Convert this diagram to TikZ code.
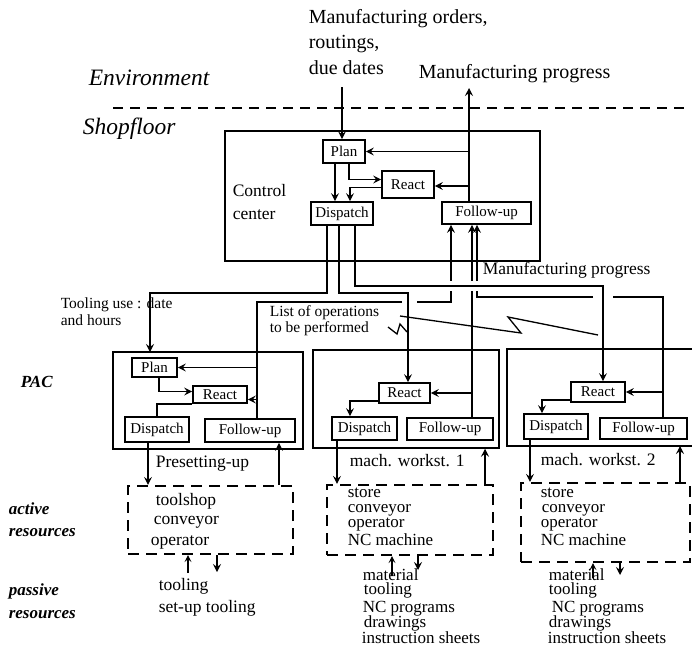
\documentclass[tikz,border=0pt]{standalone}
\usepackage{fontspec}
\setmainfont{Liberation Serif}
\usetikzlibrary{arrows.meta}
\begin{document}
\begin{tikzpicture}[x=1pt,y=-1pt,
  line width=1.6pt,
  arr/.style={-{Stealth[length=8pt,width=8pt,inset=3pt]}},
  sarr/.style={-{Stealth[length=7pt,width=7pt,inset=3pt]}, line width=1.1pt},
  ibox/.style={draw, line width=1.7pt, inner sep=0, font=\fontsize{15}{15}\selectfont},
  outerbox/.style={draw, line width=1.5pt, inner sep=0},
  resbox/.style={draw, line width=2.2pt, dash pattern=on 11pt off 7pt, inner sep=0},
  txm/.style={anchor=base west, inner sep=0, font=\fontsize{17.5}{17.5}\selectfont},
  txr/.style={anchor=base west, inner sep=0, font=\fontsize{17}{17}\selectfont},
  txb/.style={anchor=base west, inner sep=0, font=\fontsize{20}{20}\selectfont},
  txs/.style={anchor=base west, inner sep=0, font=\fontsize{15.5}{15.5}\selectfont},
  txl/.style={anchor=base west, inner sep=0, font=\fontsize{17}{17}\selectfont\bfseries\itshape},
  txe/.style={anchor=base west, inner sep=0, font=\fontsize{23.5}{23.5}\selectfont\itshape},
]
\fill[white] (0,0) rectangle (692,649);
\useasboundingbox (0,0) rectangle (692,649);

% ---------- top texts ----------
\node[txb] (mo1) at (308,23) {Manufacturing orders,};
\node[txb] (mo2) at (308,48.5) {routings,};
\node[txb] (mo3) at (308,74) {due dates};
\node[txb] (mp) at (418,78) {Manufacturing progress};
\node[txe] (envl) at (88,85) {Environment};
\node[txe] (shop) at (82,134) {Shopfloor};
\draw[dash pattern=on 10pt off 7pt, line width=2pt] (113,108) -- (688,108);

% ---------- control center ----------
\node[outerbox, minimum width=315, minimum height=130] (cc) at (382.5,196) {};
\node[ibox, minimum width=42, minimum height=23] (ccPlan) at (344,151.5) {Plan};
\node[ibox, minimum width=52, minimum height=27] (ccReact) at (408,184.5) {React};
\node[ibox, minimum width=62, minimum height=23] (ccDisp) at (342,213.5) {Dispatch};
\node[ibox, minimum width=89, minimum height=22] (ccFol) at (486.5,213) {Follow-up};
\node[txm] (ccl1) at (232,196) {Control};
\node[txm] (ccl2) at (232,219) {center};

\coordinate (inTop) at (342,87);
\coordinate (outTop) at (469,88);
\draw[arr] (inTop) -- (inTop |- ccPlan.north);
\draw[arr] (ccFol.north -| outTop) -- (outTop);
\draw[arr] (ccPlan.east -| outTop) -- (ccPlan.east);
\draw[arr] ([yshift=-1.5]ccReact.east -| outTop) -- ([yshift=-1.5]ccReact.east);
\draw[arr] ([xshift=5]ccPlan.south) |- ([yshift=5]ccReact.west);
\draw[arr] ([xshift=-9]ccPlan.south) -- ([xshift=-9]ccPlan.south |- ccDisp.north);
\draw[arr] ([yshift=-3]ccReact.west) -| ([xshift=8]ccDisp.north);

% ---------- PAC boxes ----------
\node[outerbox, minimum width=190, minimum height=97] (p1Box) at (208,400.5) {};
\node[ibox, minimum width=45, minimum height=19] (p1Plan) at (154.5,367.5) {Plan};
\node[ibox, minimum width=54, minimum height=17] (p1React) at (220,394.5) {React};
\node[ibox, minimum width=64, minimum height=25] (p1Disp) at (157,429.5) {Dispatch};
\node[ibox, minimum width=90, minimum height=23] (p1Fol) at (250,430.5) {Follow-up};

\node[outerbox, minimum width=186, minimum height=98] (w1Box) at (406,399) {};
\node[ibox, minimum width=51, minimum height=20] (w1React) at (404.5,393) {React};
\node[ibox, minimum width=65, minimum height=23] (w1Disp) at (364.5,428.5) {Dispatch};
\node[ibox, minimum width=86, minimum height=22] (w1Fol) at (450,429) {Follow-up};

\draw[line width=1.5pt] (692,349) -- (507,349) -- (507,446) -- (692,446);
\node[ibox, minimum width=54, minimum height=20] (w2React) at (598,392) {React};
\node[ibox, minimum width=64, minimum height=25] (w2Disp) at (556,426.5) {Dispatch};
\node[ibox, minimum width=87, minimum height=21] (w2Fol) at (643.5,428.5) {Follow-up};

% internal PAC connectors
\draw[arr] ([xshift=4.5]p1Plan.south) |- ([yshift=3]p1React.west);
\draw (p1React.south west) -| (p1Disp.north);
\draw[arr] ([yshift=3]w1React.south west) -| ([xshift=-14.5]w1Disp.north);
\draw[arr] ([yshift=3]w2React.south west) -| ([xshift=-14]w2Disp.north);

% ---------- feedback lines (follow-up) ----------
\coordinate (f1top) at (257,302);
\coordinate (f1r) at (451,302);
\draw ([xshift=7]p1Fol.north) -- (f1top) -- (402,302);
\draw[arr] (417,302) -- (f1r) -- (f1r |- ccFol.south);
\draw[arr] (p1Plan.east -| f1top) -- (p1Plan.east);
\draw[arr] ([yshift=-5]p1React.east -| f1top) -- ([yshift=-5]p1React.east);

\draw[arr] ([xshift=22]w1Fol.north) -- ([xshift=22]w1Fol.north |- ccFol.south);
\draw[arr] (w1React.east -| 472,0) -- (w1React.east);

\coordinate (f3top) at (663,297);
\coordinate (f3l) at (477,297);
\draw ([xshift=19.5]w2Fol.north) -- (f3top) -- (613,297);
\draw[arr] (593,297) -- (f3l) -- (f3l |- ccFol.south);
\draw[arr] (w2React.east -| f3top) -- (w2React.east);

% gaps where the dispatch line crosses
\draw[white, line width=10pt] (445,286) -- (483,286);

% ---------- dispatch lines ----------
\draw[arr] ([xshift=-15]ccDisp.south) |- (150,293) -- (150,352);
\draw[arr] ([xshift=-3]ccDisp.south) |- (408,293) -- ([xshift=3.5]w1React.north);
\draw[arr] ([xshift=13]ccDisp.south) |- (603,286) -- ([xshift=5]w2React.north);

\node[txm] (mp2) at (482,274) {Manufacturing progress};
\node[txs] (tu1) at (60,308) {Tooling use : date};
\node[txs] (tu2) at (60,325) {and hours};
\node[txs] (lo1) at (269,316) {List of operations};
\node[txs] (lo2) at (269,332) {to be performed};

% zigzag pointers
\draw[line width=1.3pt] (400,316) -- (521,333) -- (508,317) -- (598,335);
\draw[line width=1.3pt] (388,327) -- (397,334) -- (400,324) -- (407,332);

% ---------- labels ----------
\node[txl] (pac) at (20,387) {PAC};
\node[txl] (act1) at (8,514) {active};
\node[txl] (act2) at (8,536) {resources};
\node[txl] (pas1) at (8,595) {passive};
\node[txl] (pas2) at (8,618) {resources};

\node[txm] (pre) at (155,467) {Presetting-up};
\node[txm] (mw1) at (349,466) {mach. workst. 1};
\node[txm] (mw2) at (540,465) {mach. workst. 2};

% ---------- resource boxes ----------
\node[resbox, minimum width=165, minimum height=68] (r1) at (210.5,520) {};
\node[resbox, minimum width=166, minimum height=70] (r2) at (410,520) {};
\node[resbox, minimum width=169, minimum height=79] (r3) at (605.5,522.5) {};

\draw[arr] ([xshift=-9]p1Disp.south) -- ([xshift=-9]p1Disp.south |- r1.north);
\draw[arr] ([xshift=-27.5]w1Disp.south) -- ([xshift=-27.5]w1Disp.south |- r2.north);
\draw[arr] ([xshift=-26]w2Disp.south) -- ([xshift=-26]w2Disp.south |- r3.north);

\draw[arr] (r1.north -| 279,0) -- (279,0 |- p1Fol.south);
\draw[arr] (r2.north -| 485,0) -- (485,0 |- w1Box.south);
\draw[arr] (r3.north -| 680,0) -- (680,446);

\draw[sarr] (188,573) -- (188,0 |- r1.south);
\draw[arr] (217,0 |- r1.south) -- (217,572);
\draw[sarr] (392,576) -- (392,0 |- r2.south);
\draw[arr] (418,0 |- r2.south) -- (418,570);
\draw[sarr] (593,578) -- (593,0 |- r3.south);
\draw[arr] (620,0 |- r3.south) -- (620,575);

\node[txm] (r1a) at (155,505) {toolshop};
\node[txm] (r1b) at (153,524) {conveyor};
\node[txm] (r1c) at (150,545) {operator};
\node[txm] (r1d) at (158,590) {tooling};
\node[txm] (r1e) at (158,612) {set-up tooling};

\node[txr] (r2a) at (347,497) {store};
\node[txr] (r2b) at (347,512) {conveyor};
\node[txr] (r2c) at (347,527) {operator};
\node[txr] (r2d) at (347,545) {NC machine};
\node[txr] (r2e) at (362,580) {material};
\node[txr] (r2f) at (363,594) {tooling};
\node[txr] (r2g) at (362,612) {NC programs};
\node[txr] (r2h) at (363,627) {drawings};
\node[txr] (r2i) at (361,643) {instruction sheets};

\node[txr] (r3a) at (540,497) {store};
\node[txr] (r3b) at (541,512) {conveyor};
\node[txr] (r3c) at (540,527) {operator};
\node[txr] (r3d) at (540,545) {NC machine};
\node[txr] (r3e) at (548,580) {material};
\node[txr] (r3f) at (548,594) {tooling};
\node[txr] (r3g) at (551,612) {NC programs};
\node[txr] (r3h) at (548,627) {drawings};
\node[txr] (r3i) at (547,643) {instruction sheets};
\end{tikzpicture}
\end{document}
